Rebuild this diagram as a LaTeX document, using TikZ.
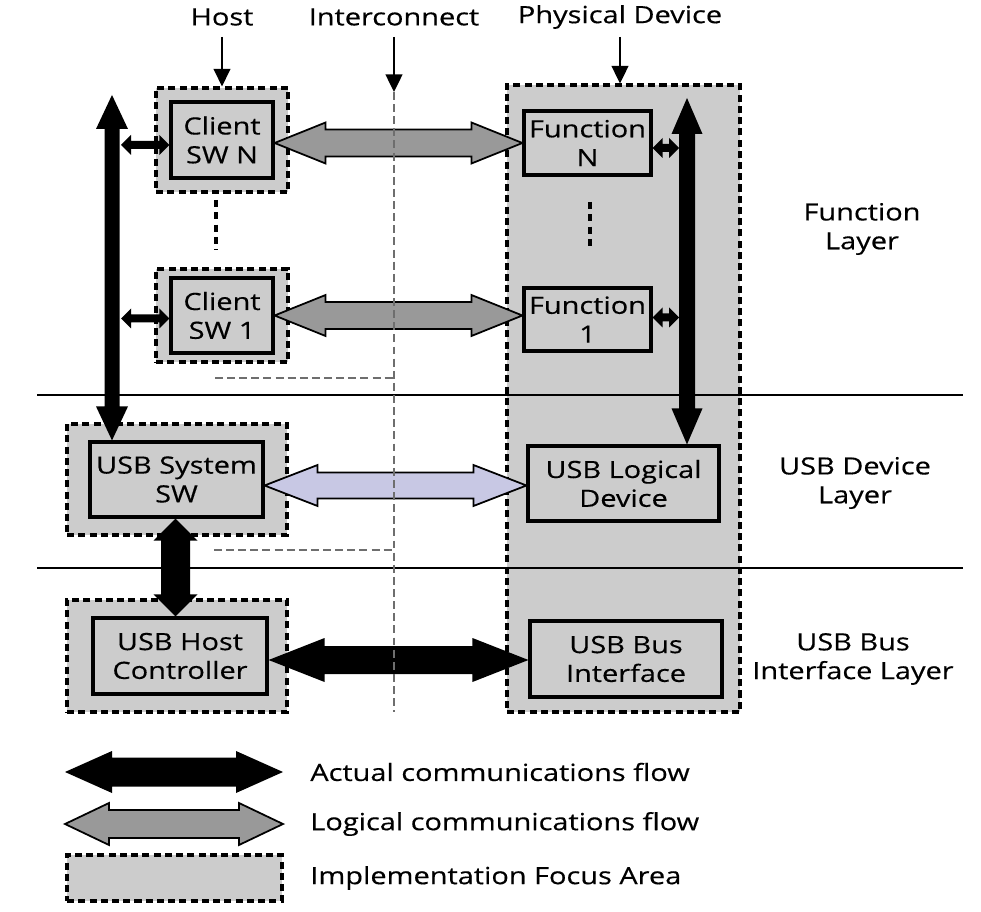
\documentclass[tikz,border=0pt]{standalone}
\usepackage{fontspec}
\setmainfont[FakeStretch=1.22, FakeBold=0.4]{Open Sans}
\usetikzlibrary{calc,arrows.meta}
\definecolor{boxgray}{HTML}{CCCCCC}
\definecolor{arrgray}{HTML}{999999}
\definecolor{lav}{HTML}{C8C8E4}
\definecolor{dashgray}{HTML}{6E6E6E}
% horizontal double arrow: style, left tip, right tip, shaft half, head half, head length (px)
\newcommand\hdarrow[6]{%
 \path[#1] let \p1=#2, \p2=#3 in
 (\x1,\y1) -- ({\x1+#6*0.02cm},{\y1+#5*0.02cm}) -- ({\x1+#6*0.02cm},{\y1+#4*0.02cm})
 -- ({\x2-#6*0.02cm},{\y1+#4*0.02cm}) -- ({\x2-#6*0.02cm},{\y1+#5*0.02cm}) -- (\x2,\y1)
 -- ({\x2-#6*0.02cm},{\y1-#5*0.02cm}) -- ({\x2-#6*0.02cm},{\y1-#4*0.02cm})
 -- ({\x1+#6*0.02cm},{\y1-#4*0.02cm}) -- ({\x1+#6*0.02cm},{\y1-#5*0.02cm}) -- cycle;}
% vertical double arrow: style, top tip, bottom tip, shaft half, head half, head length (px)
\newcommand\vdarrow[6]{%
 \path[#1] let \p1=#2, \p2=#3 in
 (\x1,\y1) -- ({\x1+#5*0.02cm},{\y1-#6*0.02cm}) -- ({\x1+#4*0.02cm},{\y1-#6*0.02cm})
 -- ({\x1+#4*0.02cm},{\y2+#6*0.02cm}) -- ({\x1+#5*0.02cm},{\y2+#6*0.02cm}) -- (\x1,\y2)
 -- ({\x1-#5*0.02cm},{\y2+#6*0.02cm}) -- ({\x1-#4*0.02cm},{\y2+#6*0.02cm})
 -- ({\x1-#4*0.02cm},{\y1-#6*0.02cm}) -- ({\x1-#5*0.02cm},{\y1-#6*0.02cm}) -- cycle;}
\tikzset{
 focus/.style={draw, fill=boxgray, line width=1.8pt, dash pattern=on 4pt off 2.4pt, inner sep=0pt},
 inbox/.style={draw, fill=boxgray, line width=1.8pt, align=center, inner sep=0pt,
   font=\fontsize{13.5}{16.4}\selectfont},
 lbl/.style={align=center, inner sep=0pt, font=\fontsize{13.5}{16.4}\selectfont},
 actual/.style={fill=black},
 logical/.style={fill=arrgray, draw=black, line width=1pt, line join=miter},
 logical2/.style={fill=lav, draw=black, line width=1pt, line join=miter},
 sep/.style={line width=1.6pt},
 icline/.style={draw=dashgray, line width=1.5pt, dash pattern=on 4.5pt off 2.4pt},
 dots/.style={line width=1.8pt, dash pattern=on 4pt off 3pt},
 pointer/.style={line width=1.2pt, -{Triangle[length=10pt,width=9.5pt]}}
}
\begin{document}
\begin{tikzpicture}[x=0.02cm, y=-0.02cm]
\useasboundingbox (0,0) rectangle (981,912);
\fill[white] (0,0) rectangle (981,912);

% focus areas
\node[focus, minimum width=4.66cm, minimum height=12.54cm] (pd) at (623.5,398.5) {};
\node[focus, minimum width=2.64cm, minimum height=2.08cm] (cnout) at (222,140) {};
\node[focus, minimum width=2.64cm, minimum height=1.86cm] (c1out) at (222,315.5) {};
\node[focus, minimum width=4.4cm, minimum height=2.22cm] (sysout) at (177,479.5) {};
\node[focus, minimum width=4.4cm, minimum height=2.24cm] (hcout) at (177,656) {};

% inner boxes
\node[inbox, minimum width=2.04cm, minimum height=1.52cm] (cn) at (222,140) {Client\\SW N};
\node[inbox, minimum width=2.04cm, minimum height=1.5cm] (c1) at (222,315.5) {Client\\SW 1};
\node[inbox, minimum width=3.46cm, minimum height=1.5cm] (sys) at (176.5,479.5) {USB System\\SW};
\node[inbox, minimum width=3.48cm, minimum height=1.52cm] (hc) at (180,656) {USB Host\\Controller};
\node[inbox, minimum width=2.54cm, minimum height=1.28cm] (fn) at (587.5,143) {Function\\N};
\node[inbox, minimum width=2.54cm, minimum height=1.26cm] (f1) at (587.5,319.5) {Function\\1};
\node[inbox, minimum width=3.82cm, minimum height=1.5cm] (ld) at (623.5,483.5) {USB Logical\\Device};
\node[inbox, minimum width=3.84cm, minimum height=1.52cm] (bi) at (626,659) {USB Bus\\Interface};

% top labels and pointers
\node[lbl] (host) at (222,17) {Host};
\node[lbl] (ic) at (394,17) {Interconnect};
\node[lbl] (phys) at (620,17) {Physical Device};
\coordinate (hostA) at (222,37);
\coordinate (icA) at (394,37);
\coordinate (icTop) at (394,92);
\coordinate (icBot) at (394,712);
\coordinate (physA) at (620,37);
\draw[pointer] (hostA) -- (cnout.north);
\draw[pointer] (icA) -- (icTop);
\draw[pointer] (physA) -- (pd.north -| physA);

% layer labels
\node[lbl] (lf) at (862,229) {Function\\Layer};
\node[lbl] (lu) at (855,483) {USB Device\\Layer};
\node[lbl] (lb) at (853,659) {USB Bus\\Interface Layer};

% layer separators
\coordinate (s1a) at (37,395); \coordinate (s1b) at (963,395);
\coordinate (s2a) at (37,568); \coordinate (s2b) at (963,568);
\draw[sep] (s1a) -- (s1b);
\draw[sep] (s2a) -- (s2b);

% ellipsis dashes
\coordinate (d1a) at (216,200); \coordinate (d1b) at (216,250);
\coordinate (d2a) at (590,202); \coordinate (d2b) at (590,251);
\draw[dots] (d1a) -- (d1b);
\draw[dots] (d2a) -- (d2b);

% big vertical arrows
\coordinate (lt) at (112,95);
\coordinate (rt) at (687,98);
\vdarrow{actual}{(lt)}{(lt |- sys.north)}{7.5}{16}{34}
\vdarrow{actual}{(rt)}{(rt |- ld.north)}{8}{15.5}{36}

% small arrows
\hdarrow{actual}{($(lt |- cn.west)+(9,5)$)}{($(cn.west)+(0,5)$)}{4}{10}{10}
\hdarrow{actual}{($(lt |- c1.west)+(9,3)$)}{($(c1.west)+(0,3)$)}{4}{10}{10}
\hdarrow{actual}{($(fn.east)+(0,5)$)}{($(rt |- fn.east)+(-8,5)$)}{4}{10}{10}
\hdarrow{actual}{($(f1.east)+(0,-2)$)}{($(rt |- f1.east)+(-8,-2)$)}{4}{10}{10}

% logical flows
\hdarrow{logical}{($(cn.east)+(0,3)$)}{(fn.west)}{13.5}{20.5}{51}
\hdarrow{logical}{(c1.east)}{(f1.west)}{13.5}{20.5}{51}
\hdarrow{logical2}{($(sys.east)+(0,6)$)}{(ld.west)}{13}{20.5}{53}

% actual flows
\vdarrow{actual}{($(sys.south)+(-1,0)$)}{($(sys.south |- hc.north)+(-1,0)$)}{14.5}{22}{22}
\hdarrow{actual}{($(hc.east)+(0,4)$)}{(bi.west)}{14}{22}{56}

% interconnect dashed lines
\coordinate (g1) at (215,378); \coordinate (g1e) at (394,378);
\coordinate (g2) at (214,550); \coordinate (g2e) at (394,550);
\draw[icline] (g1) -- (g1e);
\draw[icline] (g2) -- (g2e);
\draw[icline] (icTop) -- (icBot);

% legend
\coordinate (la1) at (65,772); \coordinate (la2) at (283,772);
\coordinate (lg1) at (65,824); \coordinate (lg2) at (283,824);
\hdarrow{actual}{(la1)}{(la2)}{14.5}{21}{47}
\hdarrow{logical}{(lg1)}{(lg2)}{14}{21}{44}
\node[focus, minimum width=4.3cm, minimum height=0.92cm] (lbox) at (174.5,878) {};
\node[lbl, anchor=west] (t1) at (310,772) {Actual communications flow};
\node[lbl, anchor=west] (t2) at (310,824) {Logical communications flow};
\node[lbl, anchor=west] (t3) at (310,878) {Implementation Focus Area};
\end{tikzpicture}
\end{document}
